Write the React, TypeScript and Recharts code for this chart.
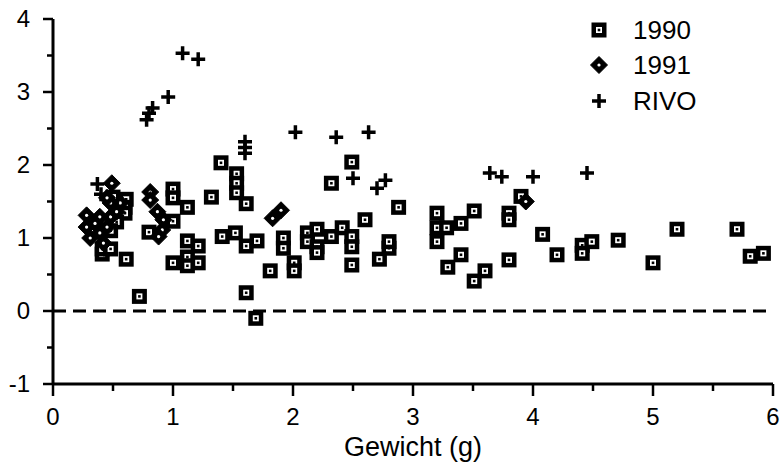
import {
  ScatterChart,
  Scatter,
  XAxis,
  YAxis,
  ReferenceLine,
  Legend,
} from 'recharts'

// Gewicht (g) vs waarde, three series
const data1990 = [
  { x: 0.72, y: 0.2 }, { x: 0.61, y: 0.71 }, { x: 0.41, y: 0.78 }, { x: 0.41, y: 0.85 },
  { x: 0.48, y: 0.85 }, { x: 0.5, y: 1.56 }, { x: 0.61, y: 1.53 }, { x: 0.6, y: 1.42 },
  { x: 0.6, y: 1.34 }, { x: 0.53, y: 1.22 }, { x: 0.48, y: 1.1 }, { x: 0.8, y: 1.08 },
  { x: 1.0, y: 1.67 }, { x: 1.0, y: 1.55 }, { x: 1.12, y: 1.42 }, { x: 1.0, y: 1.23 },
  { x: 1.0, y: 0.66 }, { x: 1.12, y: 0.96 }, { x: 1.12, y: 0.74 }, { x: 1.21, y: 0.89 },
  { x: 1.21, y: 0.66 }, { x: 1.12, y: 0.62 }, { x: 1.32, y: 1.56 }, { x: 1.4, y: 2.03 },
  { x: 1.53, y: 1.88 }, { x: 1.53, y: 1.75 }, { x: 1.53, y: 1.62 }, { x: 1.61, y: 1.47 },
  { x: 1.41, y: 1.02 }, { x: 1.52, y: 1.07 }, { x: 1.61, y: 0.89 }, { x: 1.7, y: 0.96 },
  { x: 1.61, y: 0.25 }, { x: 1.69, y: -0.1 }, { x: 1.81, y: 0.55 }, { x: 1.92, y: 1.0 },
  { x: 1.92, y: 0.86 }, { x: 2.01, y: 0.66 }, { x: 2.01, y: 0.55 }, { x: 2.12, y: 1.07 },
  { x: 2.12, y: 0.95 }, { x: 2.2, y: 1.12 }, { x: 2.2, y: 0.88 }, { x: 2.2, y: 0.8 },
  { x: 2.32, y: 1.02 }, { x: 2.41, y: 1.14 }, { x: 2.49, y: 1.02 }, { x: 2.49, y: 0.88 },
  { x: 2.49, y: 0.63 }, { x: 2.6, y: 1.25 }, { x: 2.49, y: 2.04 }, { x: 2.32, y: 1.75 },
  { x: 2.88, y: 1.42 }, { x: 2.8, y: 0.86 }, { x: 2.72, y: 0.71 }, { x: 2.8, y: 0.95 },
  { x: 3.2, y: 1.34 }, { x: 3.2, y: 1.14 }, { x: 3.28, y: 1.14 }, { x: 3.2, y: 0.95 },
  { x: 3.4, y: 1.2 }, { x: 3.51, y: 1.37 }, { x: 3.8, y: 1.34 }, { x: 3.8, y: 1.25 },
  { x: 3.4, y: 0.77 }, { x: 3.29, y: 0.6 }, { x: 3.6, y: 0.55 }, { x: 3.51, y: 0.41 },
  { x: 3.8, y: 0.7 }, { x: 3.9, y: 1.57 }, { x: 4.08, y: 1.05 }, { x: 4.2, y: 0.77 },
  { x: 4.41, y: 0.9 }, { x: 4.41, y: 0.79 }, { x: 4.49, y: 0.95 }, { x: 4.71, y: 0.97 },
  { x: 5.2, y: 1.12 }, { x: 5.0, y: 0.66 }, { x: 5.7, y: 1.12 }, { x: 5.81, y: 0.75 },
  { x: 5.92, y: 0.79 },
]

const data1991 = [
  { x: 0.49, y: 1.75 }, { x: 0.28, y: 1.31 }, { x: 0.28, y: 1.15 }, { x: 0.31, y: 1.0 },
  { x: 0.39, y: 1.07 }, { x: 0.39, y: 1.29 }, { x: 0.48, y: 1.29 }, { x: 0.45, y: 1.15 },
  { x: 0.53, y: 1.36 }, { x: 0.56, y: 1.48 }, { x: 0.48, y: 1.48 }, { x: 0.42, y: 0.93 },
  { x: 0.45, y: 1.55 }, { x: 0.35, y: 1.2 }, { x: 0.81, y: 1.63 }, { x: 0.81, y: 1.52 },
  { x: 0.87, y: 1.36 }, { x: 0.92, y: 1.25 }, { x: 0.91, y: 1.11 }, { x: 0.88, y: 1.02 },
  { x: 1.83, y: 1.27 }, { x: 1.9, y: 1.38 }, { x: 3.94, y: 1.5 },
]

const dataRivo = [
  { x: 0.37, y: 1.74 }, { x: 0.4, y: 1.6 }, { x: 0.78, y: 2.62 }, { x: 0.8, y: 2.71 },
  { x: 0.83, y: 2.78 }, { x: 0.96, y: 2.93 }, { x: 1.08, y: 3.53 }, { x: 1.21, y: 3.45 },
  { x: 1.6, y: 2.32 }, { x: 1.6, y: 2.24 }, { x: 1.6, y: 2.16 }, { x: 2.02, y: 2.45 },
  { x: 2.36, y: 2.38 }, { x: 2.63, y: 2.45 }, { x: 2.5, y: 1.82 }, { x: 2.7, y: 1.68 },
  { x: 2.77, y: 1.79 }, { x: 3.64, y: 1.89 }, { x: 3.74, y: 1.84 }, { x: 4.0, y: 1.84 },
  { x: 4.45, y: 1.89 },
]

const xTicks = [0, 0.5, 1, 1.5, 2, 2.5, 3, 3.5, 4, 4.5, 5, 5.5, 6]
const yTicks = [-1, -0.5, 0, 0.5, 1, 1.5, 2, 2.5, 3, 3.5, 4]
const seriesNames = ['1990', '1991', 'RIVO']

const FONT = '"Liberation Sans", Arial, Helvetica, sans-serif'

const SquareDot = ({ cx, cy }: any) => (
  <g>
    <rect x={cx - 7.5} y={cy - 7.5} width={15} height={15} fill="#000" />
    <rect x={cx - 3} y={cy - 3} width={6} height={6} fill="#fff" />
    <rect x={cx - 1.3} y={cy - 1.3} width={2.6} height={2.6} fill="#000" />
  </g>
)

const DiamondDot = ({ cx, cy }: any) => (
  <g>
    <path
      d={`M${cx},${cy - 8.5}L${cx + 8.5},${cy}L${cx},${cy + 8.5}L${cx - 8.5},${cy}Z`}
      fill="#000"
      stroke="#000"
      strokeWidth={1}
      strokeLinejoin="round"
    />
    <circle cx={cx} cy={cy} r={1.6} fill="#fff" />
  </g>
)

const PlusDot = ({ cx, cy }: any) => (
  <path
    d={`M${cx - 7},${cy}H${cx + 7}M${cx},${cy - 7}V${cy + 7}`}
    stroke="#000"
    strokeWidth={3.5}
    fill="none"
  />
)

const shapes = [SquareDot, DiamondDot, PlusDot]

const YTick = ({ x, y, payload }: any) => {
  const v = payload.value
  const major = Number.isInteger(v)
  return (
    <g>
      <line x1={x - (major ? 10 : 6)} x2={x} y1={y} y2={y} stroke="#000" strokeWidth={2.5} />
      {major && (
        <text x={x - 23} y={y + 8} textAnchor="end" fontFamily={FONT} fontSize={24} fill="#000">
          {v}
        </text>
      )}
    </g>
  )
}

const XTick = ({ x, y, payload }: any) => {
  const v = payload.value
  const major = Number.isInteger(v)
  return (
    <g>
      <line x1={x} x2={x} y1={y} y2={y + (major ? 12 : 7)} stroke="#000" strokeWidth={2.5} />
      {major && (
        <text x={x} y={y + 41} textAnchor="middle" fontFamily={FONT} fontSize={24} fill="#000">
          {v}
        </text>
      )}
    </g>
  )
}

const LegendBox = () => (
  <div style={{ fontFamily: FONT, fontSize: 26, color: '#000' }}>
    {seriesNames.map((name, i) => {
      const Shape = shapes[i]
      return (
        <div key={name} style={{ display: 'flex', alignItems: 'center', height: 35.5 }}>
          <svg width={16} height={18} style={{ overflow: 'visible' }}>
            <Shape cx={8} cy={9} />
          </svg>
          <span style={{ marginLeft: 26, lineHeight: '26px' }}>{name}</span>
        </div>
      )
    })}
  </div>
)

export default function App() {
  return (
    <div style={{ position: 'absolute', left: 0, top: 0, background: '#fff' }}>
      <ScatterChart width={780} height={465} margin={{ top: 19, right: 7, left: 0, bottom: 0 }}>
        <XAxis
          type="number"
          dataKey="x"
          domain={[0, 6]}
          ticks={xTicks}
          interval={0}
          height={81}
          tickSize={0}
          tickMargin={0}
          tickLine={false}
          tick={<XTick />}
          axisLine={{ stroke: '#000', strokeWidth: 3 }}
          label={{
            value: 'Gewicht (g)',
            position: 'insideBottom',
            offset: 9,
            fill: '#000',
            fontSize: 27,
            fontFamily: FONT,
          }}
        />
        <YAxis
          type="number"
          dataKey="y"
          domain={[-1, 4]}
          ticks={yTicks}
          interval={0}
          width={53}
          tickSize={0}
          tickMargin={0}
          tickLine={false}
          tick={<YTick />}
          axisLine={{ stroke: '#000', strokeWidth: 3 }}
        />
        <ReferenceLine y={0} stroke="#000" strokeWidth={3} strokeDasharray="13 7" />
        <Legend
          layout="horizontal"
          verticalAlign="middle"
          align="center"
          wrapperStyle={{ left: 591, top: 12, width: 180 }}
          content={<LegendBox />}
        />
        <Scatter name="1990" data={data1990} shape={SquareDot} isAnimationActive={false} />
        <Scatter name="1991" data={data1991} shape={DiamondDot} isAnimationActive={false} />
        <Scatter name="RIVO" data={dataRivo} shape={PlusDot} isAnimationActive={false} />
      </ScatterChart>
    </div>
  )
}
